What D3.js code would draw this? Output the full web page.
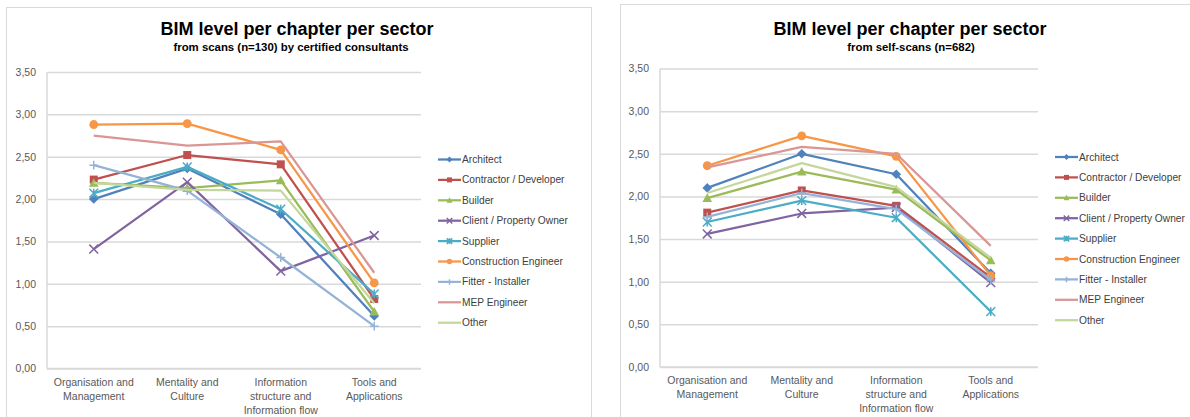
<!DOCTYPE html>
<html>
<head>
<meta charset="utf-8">
<script src="https://cdn.jsdelivr.net/npm/d3@7"></script>
<style>
  body { margin: 0; background: #fff; }
  svg text { font-family: "Liberation Sans", Arial, sans-serif; }
</style>
</head>
<body>
<div id="chart"></div>
<script>
// categories (x axis), split over lines as in the original
const categories = ["Organisation and Management", "Mentality and Culture",
  "Information structure and Information flow", "Tools and Applications"];
const categoryLines = [["Organisation and", "Management"], ["Mentality and", "Culture"],
  ["Information", "structure and", "Information flow"], ["Tools and", "Applications"]];

const sectors = ["Architect", "Contractor / Developer", "Builder", "Client / Property Owner",
  "Supplier", "Construction Engineer", "Fitter - Installer", "MEP Engineer", "Other"];
const sectorColors = ["#4f81bd", "#c0504d", "#9bbb59", "#8064a2", "#4bacc6",
  "#f79646", "#95b3d7", "#d99694", "#c3d69b"];
const sectorMarkers = ["diamond", "square", "triangle", "x", "star", "circle", "plus", "none", "none"];

// scans by certified consultants (n=130)
const consultantValues = [
  [2.00, 2.36, 1.82, 0.62],
  [2.23, 2.52, 2.41, 0.82],
  [2.19, 2.13, 2.22, 0.67],
  [1.41, 2.20, 1.15, 1.57],
  [2.07, 2.38, 1.88, 0.88],
  [2.88, 2.89, 2.58, 1.01],
  [2.40, 2.10, 1.31, 0.50],
  [2.75, 2.63, 2.68, 1.13],
  [2.19, 2.11, 2.10, 0.77]
];

// self-scans (n=682)
const selfScanValues = [
  [2.10, 2.50, 2.26, 1.10],
  [1.81, 2.07, 1.89, 1.05],
  [1.98, 2.29, 2.08, 1.25],
  [1.56, 1.80, 1.87, 0.99],
  [1.70, 1.95, 1.75, 0.65],
  [2.36, 2.71, 2.47, 1.07],
  [1.76, 2.04, 1.85, 1.02],
  [2.34, 2.58, 2.50, 1.42],
  [2.04, 2.39, 2.11, 1.28]
];

const yTicks = [0, 0.5, 1, 1.5, 2, 2.5, 3, 3.5];

const width = 1190, height = 417;

const svg = d3.select("#chart")
  .append("svg")
  .attr("width", width)
  .attr("height", height)
  .attr("viewBox", [0, 0, width, height]);

const fmt = (v) => d3.format(".2f")(v).replace(".", ",");

// draws one marker at 0,0 into a group
function drawMarker(g, type, color, s) {
  if (type === "circle") {
    g.append("circle").attr("r", s * 0.55).attr("fill", color);
  } else if (type === "square") {
    g.append("rect").attr("x", -s / 2).attr("y", -s / 2)
      .attr("width", s).attr("height", s).attr("fill", color);
  } else if (type === "diamond") {
    const h = s * 0.6;
    g.append("path").attr("d", `M0,${-h}L${h},0L0,${h}L${-h},0Z`).attr("fill", color);
  } else if (type === "triangle") {
    const h = s * 0.6;
    g.append("path").attr("d", `M0,${-h}L${h},${h * 0.8}L${-h},${h * 0.8}Z`).attr("fill", color);
  } else if (type === "x" || type === "star" || type === "plus") {
    const h = s * 0.55;
    let d = "";
    if (type !== "plus") d += `M${-h},${-h}L${h},${h}M${-h},${h}L${h},${-h}`;
    if (type === "star") d += `M0,${-h}L0,${h}`;
    if (type === "plus") d += `M0,${-h}L0,${h}M${-h},0L${h},0`;
    g.append("path").attr("d", d).attr("stroke", color)
      .attr("stroke-width", 1.5).attr("fill", "none");
  }
}

function drawChart(cfg) {
  const g = svg.append("g");

  // outer frame
  g.append("rect")
    .attr("x", cfg.frame[0] + 0.5).attr("y", cfg.frame[1] + 0.5)
    .attr("width", cfg.frame[2]).attr("height", cfg.frame[3])
    .attr("fill", "#fff").attr("stroke", "#d9d9d9");

  g.append("text")
    .attr("x", cfg.titleX).attr("y", 35)
    .attr("text-anchor", "middle")
    .attr("font-size", 18).attr("font-weight", "bold").attr("fill", "#000")
    .text("BIM level per chapter per sector");

  g.append("text")
    .attr("x", cfg.subX).attr("y", 51)
    .attr("text-anchor", "middle")
    .attr("font-size", 11.4).attr("font-weight", "bold").attr("fill", "#000")
    .text(cfg.subtitle);

  const x = d3.scalePoint().domain(categories).range(cfg.xRange).padding(0.5);
  const y = d3.scaleLinear().domain([0, 3.5]).range(cfg.yRange);

  // gridlines + y labels
  const yAxis = g.append("g")
    .attr("transform", `translate(${cfg.xRange[0]},0)`)
    .call(d3.axisLeft(y).tickValues(yTicks).tickFormat(fmt)
      .tickSize(-(cfg.xRange[1] - cfg.xRange[0])).tickPadding(11));
  yAxis.select(".domain").remove();
  yAxis.selectAll(".tick line").attr("stroke", "#d9d9d9").attr("stroke-width", 1.5);
  yAxis.selectAll(".tick text").attr("fill", "#595959").attr("font-size", 10.5);

  // axis lines
  g.append("line")
    .attr("x1", cfg.xRange[0]).attr("x2", cfg.xRange[0])
    .attr("y1", y(3.5)).attr("y2", y(0))
    .attr("stroke", "#d9d9d9").attr("stroke-width", 1.5);
  g.append("line")
    .attr("x1", cfg.xRange[0]).attr("x2", cfg.xRange[1])
    .attr("y1", y(0)).attr("y2", y(0))
    .attr("stroke", "#d9d9d9").attr("stroke-width", 1.5);

  // category labels
  categories.forEach((c, i) => {
    const t = g.append("text")
      .attr("x", x(c)).attr("y", y(0) + 17)
      .attr("text-anchor", "middle")
      .attr("font-size", 10.5).attr("fill", "#595959");
    categoryLines[i].forEach((line, j) => {
      t.append("tspan").attr("x", x(c)).attr("dy", j === 0 ? 0 : 14).text(line);
    });
  });

  const line = d3.line()
    .x((d, i) => x(categories[i]))
    .y((d) => y(d));

  cfg.values.forEach((vals, k) => {
    const sg = g.append("g").attr("class", "series");
    sg.append("path")
      .datum(vals)
      .attr("d", line)
      .attr("fill", "none")
      .attr("stroke", sectorColors[k])
      .attr("stroke-width", 2.25)
      .attr("stroke-linejoin", "round");
    vals.forEach((v, i) => {
      const m = sg.append("g").attr("transform", `translate(${x(categories[i])},${y(v)})`);
      drawMarker(m, sectorMarkers[k], sectorColors[k], 8);
    });
  });

  // legend
  sectors.forEach((s, k) => {
    const ly = cfg.legendY + k * 20.4;
    const lg = g.append("g").attr("transform", `translate(${cfg.legendX},${ly})`);
    lg.append("line").attr("x1", 0).attr("x2", 23)
      .attr("stroke", sectorColors[k]).attr("stroke-width", 2.25);
    const m = lg.append("g").attr("transform", "translate(11.5,0)");
    drawMarker(m, sectorMarkers[k], sectorColors[k], 5);
    lg.append("text").attr("x", 24).attr("y", 0)
      .attr("dominant-baseline", "central")
      .attr("font-size", 10.2).attr("fill", "#404040")
      .text(s);
  });
}

drawChart({
  frame: [6, 7, 585, 420],
  titleX: 297, subX: 291,
  subtitle: "from scans (n=130) by certified consultants",
  xRange: [47, 421],
  yRange: [368.5, 72],
  values: consultantValues,
  legendX: 438, legendY: 159.5
});

drawChart({
  frame: [620, 4, 580, 420],
  titleX: 910, subX: 911,
  subtitle: "from self-scans (n=682)",
  xRange: [660, 1038],
  yRange: [367, 68.5],
  values: selfScanValues,
  legendX: 1055, legendY: 157
});
</script>
</body>
</html>
